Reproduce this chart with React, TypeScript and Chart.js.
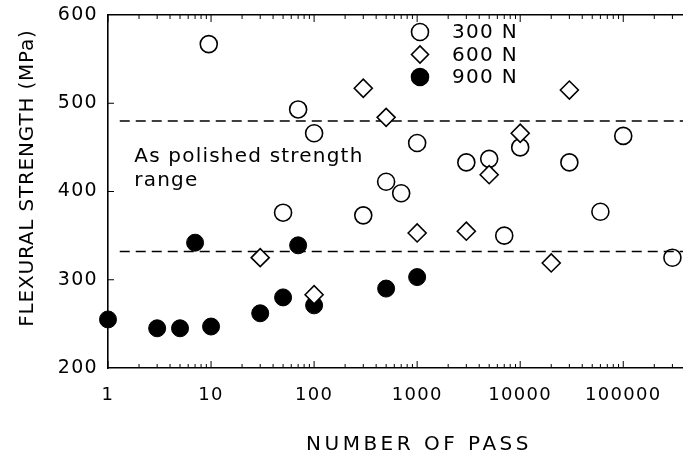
import React, { useEffect, useRef } from 'react';
import { Chart, registerables } from 'chart.js';

Chart.register(...registerables);

// ---- data ----
const seriesLabels = ['300 N', '600 N', '900 N'];

const passes300 = [9.5, 50, 70, 100, 300, 500, 700, 1000, 3000, 5000, 7000, 10000, 30000, 60000, 100000, 300000];
const strength300 = [567, 376, 493, 466, 373, 411, 398, 455, 433, 437, 350, 450, 433, 377, 463, 325];

const passes600 = [30, 100, 300, 500, 1000, 3000, 5000, 10000, 20000, 30000];
const strength600 = [325, 283, 517, 484, 353, 355, 419, 466, 319, 515];

const passes900 = [1, 3, 5, 7, 10, 30, 50, 70, 100, 500, 1000];
const strength900 = [255, 245, 245, 342, 247, 262, 280, 339, 271, 290, 303];

const polishedRange = [332, 480];
const rangeLineX = [1.3, 380000];

const xMin = 1;
const xMax = 380000;
const yMin = 200;
const yMax = 600;
const yStep = 100;
const xTickLabels = [1, 10, 100, 1000, 10000, 100000];

const annotationLines = ['As polished strength', 'range'];
const annotationX = 1.8;
const annotationY = [433, 406];

const xTitle = 'NUMBER OF PASS';
const yTitle = 'FLEXURAL STRENGTH (MPa)';

const FONT = '"DejaVu Sans", sans-serif';

function noPad(s: any) {
  s.paddingLeft = 0;
  s.paddingRight = 0;
  s.paddingTop = 0;
  s.paddingBottom = 0;
}

function drawMarker(ctx: CanvasRenderingContext2D, kind: number, x: number, y: number, r: number) {
  ctx.beginPath();
  if (kind === 1) {
    ctx.moveTo(x - r, y);
    ctx.lineTo(x, y - r);
    ctx.lineTo(x + r, y);
    ctx.lineTo(x, y + r);
    ctx.closePath();
    ctx.fillStyle = '#fff';
    ctx.fill();
    ctx.stroke();
  } else {
    ctx.arc(x, y, r, 0, Math.PI * 2);
    if (kind === 2) {
      ctx.fillStyle = '#000';
      ctx.fill();
    }
    ctx.stroke();
  }
}

const decorPlugin = {
  id: 'decor',
  beforeDraw(chart: any) {
    chart.ctx.letterSpacing = '1.3px';
  },
  beforeDatasetsDraw(chart: any) {
    const ctx = chart.ctx as CanvasRenderingContext2D;
    const xs = chart.scales.x;
    const ys = chart.scales.y;
    const { top, bottom, left } = chart.chartArea;
    ctx.save();
    ctx.strokeStyle = '#000';
    ctx.lineWidth = 1;
    for (let e = 0; e <= 6; e++) {
      for (let m = 1; m <= 9; m++) {
        const v = m * Math.pow(10, e);
        if (v < xMin || v > xMax) continue;
        const px = xs.getPixelForValue(v);
        const len = m === 1 ? 7 : 4;
        ctx.beginPath();
        ctx.moveTo(px, bottom);
        ctx.lineTo(px, bottom - len);
        ctx.moveTo(px, top);
        ctx.lineTo(px, top + len);
        ctx.stroke();
      }
    }
    for (let v = yMin + yStep; v < yMax; v += yStep) {
      const py = ys.getPixelForValue(v);
      ctx.beginPath();
      ctx.moveTo(left, py);
      ctx.lineTo(left + 6, py);
      ctx.stroke();
    }
    ctx.restore();
  },
  afterDraw(chart: any) {
    const ctx = chart.ctx as any;
    const xs = chart.scales.x;
    const ys = chart.scales.y;
    ctx.save();
    ctx.fillStyle = '#000';
    ctx.strokeStyle = '#000';

    // legend
    ctx.font = `20px ${FONT}`;
    ctx.letterSpacing = '1.3px';
    ctx.textAlign = 'left';
    ctx.textBaseline = 'middle';
    ctx.lineWidth = 1.6;
    seriesLabels.forEach((label, i) => {
      const y = 32 + i * 22.5;
      drawMarker(ctx, i, 420, y, 8.5);
      ctx.fillStyle = '#000';
      ctx.fillText(label, 452, y + 1);
    });

    // annotation
    ctx.letterSpacing = '1.2px';
    ctx.textBaseline = 'alphabetic';
    annotationLines.forEach((line, i) => {
      ctx.fillText(line, xs.getPixelForValue(annotationX), ys.getPixelForValue(annotationY[i]));
    });

    // x title
    ctx.letterSpacing = '3.5px';
    ctx.textAlign = 'center';
    ctx.fillText(xTitle, 419, 450);

    // y title
    ctx.letterSpacing = '0.8px';
    ctx.translate(33, 178);
    ctx.rotate(-Math.PI / 2);
    ctx.fillText(yTitle, 0, 0);
    ctx.restore();
  },
};

export default function App() {
  const ref = useRef<HTMLCanvasElement>(null);
  useEffect(() => {
    const canvas = ref.current!;
    const border = { display: true, color: '#000', width: 1.6 };
    const chart = new Chart(canvas, {
      type: 'scatter',
      data: {
        datasets: [
          {
            label: seriesLabels[1],
            data: passes600.map((x, i) => ({ x, y: strength600[i] })),
            pointStyle: 'rectRot',
            pointRadius: 9,
            pointBorderWidth: 1.6,
            borderColor: '#000',
            backgroundColor: '#fff',
            clip: false,
          },
          {
            label: seriesLabels[0],
            data: passes300.map((x, i) => ({ x, y: strength300[i] })),
            pointStyle: 'circle',
            pointRadius: 8.5,
            pointBorderWidth: 1.6,
            borderColor: '#000',
            backgroundColor: 'rgba(0,0,0,0)',
            clip: false,
          },
          {
            label: seriesLabels[2],
            data: passes900.map((x, i) => ({ x, y: strength900[i] })),
            pointStyle: 'circle',
            pointRadius: 8.5,
            pointBorderWidth: 1,
            borderColor: '#000',
            backgroundColor: '#000',
            clip: false,
          },
          {
            type: 'line',
            label: 'upper',
            data: rangeLineX.map((x) => ({ x, y: polishedRange[1] })),
            borderColor: '#000',
            borderWidth: 1.5,
            borderDash: [10, 6],
            pointRadius: 0,
            fill: false,
          },
          {
            type: 'line',
            label: 'lower',
            data: rangeLineX.map((x) => ({ x, y: polishedRange[0] })),
            borderColor: '#000',
            borderWidth: 1.5,
            borderDash: [10, 6],
            pointRadius: 0,
            fill: false,
          },
        ] as any,
      },
      options: {
        animation: false,
        responsive: false,
        devicePixelRatio: 1,
        events: [],
        layout: { padding: 0, autoPadding: false },
        plugins: { legend: { display: false }, tooltip: { enabled: false } },
        scales: {
          x: {
            type: 'logarithmic',
            position: 'bottom',
            min: xMin,
            max: xMax,
            afterFit: (s: any) => { s.height = 86; noPad(s); },
            afterBuildTicks: (s: any) => { s.ticks = xTickLabels.map((v) => ({ value: v })); },
            ticks: {
              callback: (v: any) => String(v),
              font: { family: FONT, size: 18 },
              color: '#000',
              padding: 17,
              maxRotation: 0,
              autoSkip: false,
            },
            grid: { display: false, drawTicks: false },
            border,
          },
          x2: {
            type: 'logarithmic',
            position: 'top',
            min: xMin,
            max: xMax,
            afterFit: (s: any) => { s.height = 15; noPad(s); },
            ticks: { display: false },
            grid: { display: false, drawTicks: false },
            border,
          },
          y: {
            type: 'linear',
            min: yMin,
            max: yMax,
            afterFit: (s: any) => { s.width = 108; noPad(s); },
            ticks: {
              stepSize: yStep,
              callback: (v: any) => String(v),
              font: { family: FONT, size: 19 },
              color: '#000',
              padding: 10,
            },
            grid: { display: false, drawTicks: false },
            border,
          },
        } as any,
      },
      plugins: [decorPlugin],
    });
    return () => chart.destroy();
  }, []);
  return (
    <div style={{ position: 'absolute', left: 0, top: 0, width: 683, height: 454, background: '#fff' }}>
      <canvas ref={ref} width={683} height={454} style={{ display: 'block' }} />
    </div>
  );
}
